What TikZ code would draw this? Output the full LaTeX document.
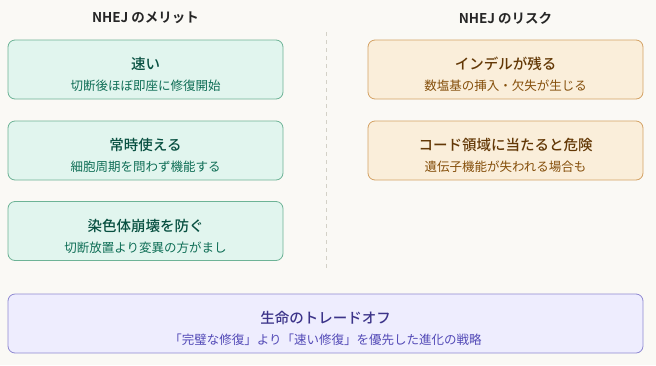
\documentclass[tikz,border=0pt]{standalone}
\usepackage{fontspec}
\setmainfont{Noto Sans CJK JP}[BoldFont={Noto Sans CJK JP Medium}]
\newfontfamily\headfont{Noto Sans CJK JP Bold}
\usetikzlibrary{positioning}

\definecolor{bgcol}{HTML}{FAF9F5}
\definecolor{grnfill}{HTML}{E1F5EE}
\definecolor{grnline}{HTML}{6DB396}
\definecolor{grntitle}{HTML}{085041}
\definecolor{grnsub}{HTML}{0F6E56}
\definecolor{orgfill}{HTML}{FAEEDA}
\definecolor{orgline}{HTML}{D4A264}
\definecolor{orgtitle}{HTML}{633806}
\definecolor{orgsub}{HTML}{854F0B}
\definecolor{purfill}{HTML}{EEEDFE}
\definecolor{purline}{HTML}{8F89D2}
\definecolor{purtitle}{HTML}{3C3489}
\definecolor{pursub}{HTML}{534AB7}
\definecolor{divcol}{HTML}{D3D1C7}

\tikzset{
  card/.style={draw, rounded corners=7pt, line width=0.8pt, minimum width=275pt, minimum height=59pt, inner sep=0pt},
  merit/.style={card, fill=grnfill, draw=grnline},
  risk/.style={card, fill=orgfill, draw=orgline},
  summary/.style={card, fill=purfill, draw=purline, minimum width=635pt},
  coltitle/.style={font=\fontsize{13.5}{16}\selectfont\headfont, text=black!85},
  cardtitle/.style={font=\fontsize{14.5}{17}\selectfont\bfseries, inner sep=0pt},
  cardsub/.style={font=\fontsize{12.5}{15}\selectfont, inner sep=0pt}
}

\begin{document}
\begin{tikzpicture}[x=1pt,y=-1pt]
	% background
	\fill[bgcol] (0,0) rectangle (656,365);
	\useasboundingbox (0,0) rectangle (656,365);
	% column titles
	\node[coltitle] (meritttl) at (145.5,18) {NHEJ のメリット};
	\node[coltitle] (riskttl) at (505.5,18) {NHEJ のリスク};
	% divider
	\coordinate (divtop) at (326,32);
	\coordinate (divbot) at (326,271);
	\draw[divcol, line width=1pt, dash pattern=on 4pt off 4pt] (divtop) -- (divbot);
	% merits
	\node[merit] (fast) at (145.5,69.5) {};
	\node[cardtitle, text=grntitle] at ([yshift=5.5pt]fast.center) {速い};
	\node[cardsub, text=grnsub] at ([yshift=-16.5pt]fast.center) {切断後ほぼ即座に修復開始};
	\node[merit] (always) at (145.5,150.5) {};
	\node[cardtitle, text=grntitle] at ([yshift=5.5pt]always.center) {常時使える};
	\node[cardsub, text=grnsub] at ([yshift=-16.5pt]always.center) {細胞周期を問わず機能する};
	\node[merit] (protect) at (145.5,231) {};
	\node[cardtitle, text=grntitle] at ([yshift=5.5pt]protect.center) {染色体崩壊を防ぐ};
	\node[cardsub, text=grnsub] at ([yshift=-16.5pt]protect.center) {切断放置より変異の方がまし};
	% risks
	\node[risk] (indel) at (505.5,69.5) {};
	\node[cardtitle, text=orgtitle] at ([yshift=5.5pt]indel.center) {インデルが残る};
	\node[cardsub, text=orgsub] at ([yshift=-16.5pt]indel.center) {数塩基の挿入・欠失が生じる};
	\node[risk] (coding) at (505.5,150.5) {};
	\node[cardtitle, text=orgtitle] at ([yshift=5.5pt]coding.center) {コード領域に当たると危険};
	\node[cardsub, text=orgsub] at ([yshift=-16.5pt]coding.center) {遺伝子機能が失われる場合も};
	% summary
	\node[summary] (tradeoff) at (325.5,323.5) {};
	\node[cardtitle, text=purtitle] at ([yshift=5.5pt]tradeoff.center) {生命のトレードオフ};
	\node[cardsub, text=pursub] at ([yshift=-16.5pt]tradeoff.center) {「完璧な修復」より「速い修復」を優先した進化の戦略};
\end{tikzpicture}
\end{document}
